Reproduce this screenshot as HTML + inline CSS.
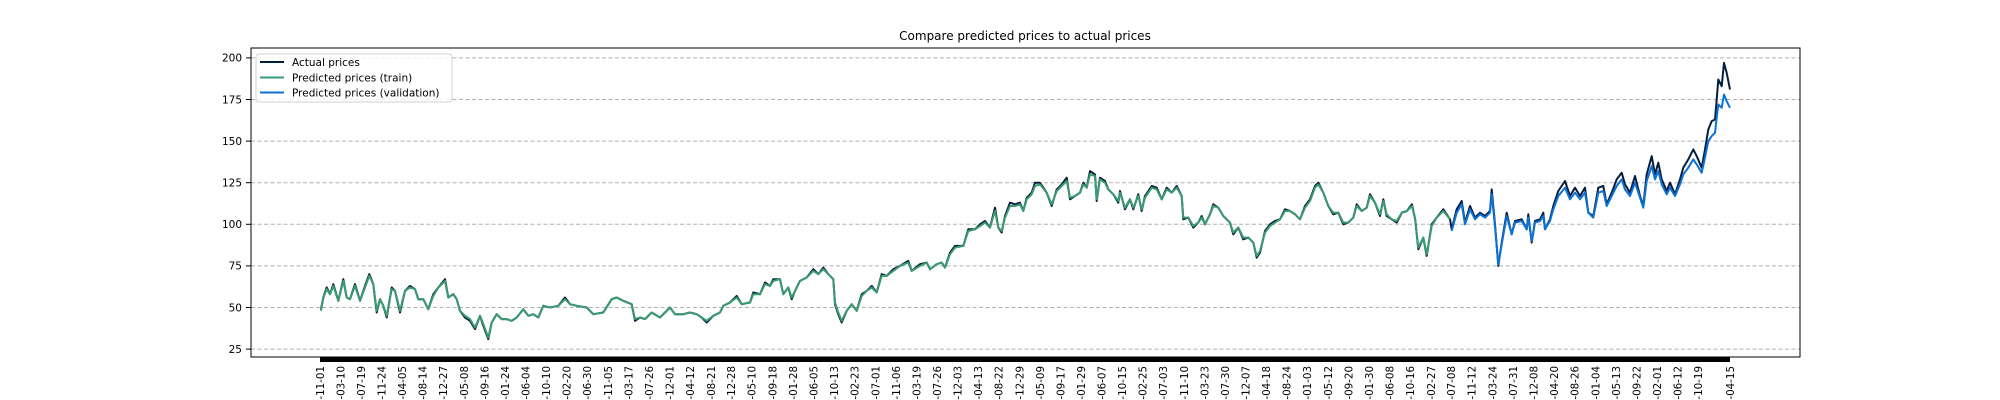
<!DOCTYPE html>
<html>
<head>
<meta charset="utf-8">
<style>
  html,body{margin:0;padding:0;background:#fff;width:2000px;height:400px;overflow:hidden;}
  svg{display:block;overflow:hidden;font-family:"DejaVu Sans","Liberation Sans",sans-serif;}
</style>
</head>
<body>
<svg id="chart" width="2000" height="400" viewBox="0 0 2000 400" xmlns="http://www.w3.org/2000/svg">
  <rect x="0" y="0" width="2000" height="400" fill="#fff"/>
  <text x="1025" y="40" font-size="12" text-anchor="middle" fill="#000">Compare predicted prices to actual prices</text>
  <g id="grid"></g>
  <g id="yaxis"></g>
  <g id="xaxis"></g>
  <g id="series"></g>
  <rect x="251" y="48" width="1549" height="309" fill="none" stroke="#000" stroke-width="1"/>
  <g>
    <rect x="256" y="54" width="196" height="48" rx="3" fill="#fff" fill-opacity="0.8" stroke="#d0d0d0" stroke-width="1"/>
    <line x1="260" y1="62" x2="284" y2="62" stroke="#061e3e" stroke-width="2"/>
    <text x="292" y="66" font-size="10.5" fill="#000">Actual prices</text>
    <line x1="260" y1="77.5" x2="284" y2="77.5" stroke="#3a9a70" stroke-width="2"/>
    <text x="292" y="81.5" font-size="10.5" fill="#000">Predicted prices (train)</text>
    <line x1="260" y1="92.5" x2="284" y2="92.5" stroke="#0a72d8" stroke-width="2"/>
    <text x="292" y="96.5" font-size="10.5" fill="#000">Predicted prices (validation)</text>
  </g>
</svg>
<script>
const yTicks = [25, 50, 75, 100, 125, 150, 175, 200];
const tickLabels = ["11-01","03-10","07-19","11-24","04-05","08-14","12-27","05-08","09-16","01-24","06-04","10-10","02-20","06-30","11-05","03-17","07-26","12-01","04-12","08-21","12-28","05-10","09-18","01-28","06-05","10-13","02-23","07-01","11-06","03-19","07-26","12-03","04-13","08-22","12-29","05-09","09-17","01-29","06-07","10-15","02-25","07-03","11-10","03-23","07-30","12-07","04-18","08-24","01-03","05-12","09-20","01-30","06-08","10-16","02-27","07-08","11-12","03-24","07-31","12-08","04-20","08-26","01-04","05-13","09-22","02-01","06-12","10-19","04-15"];
const tickDays = [0,86,173,259,346,432,518,605,691,778,864,950,1037,1123,1210,1296,1382,1469,1555,1642,1728,1814,1901,1987,2074,2160,2246,2333,2419,2506,2592,2678,2765,2851,2938,3024,3110,3197,3283,3370,3456,3542,3629,3715,3802,3888,3974,4061,4147,4234,4320,4406,4493,4579,4666,4752,4838,4925,5011,5098,5184,5270,5357,5443,5530,5616,5702,5789,5922];
const trainDays = [4,14,28,42,56,77,98,112,126,147,168,189,207,224,238,252,266,280,301,315,336,357,378,399,413,434,455,476,497,525,539,560,574,588,609,630,651,672,686,707,721,742,763,784,805,826,854,875,896,917,938,966,1001,1029,1050,1078,1120,1148,1190,1225,1246,1274,1309,1323,1344,1365,1393,1428,1449,1470,1491,1526,1554,1582,1603,
1624,1652,1680,1694,1722,1750,1771,1806,1820,1848,1869,1890,1904,1932,1946,1967,1981,1995,2016,2044,2072,2093,2114,2135,2156,2163,2177,2191,2212,2233,2254,2275,2296,2317,2338,2359,2380,2408,2436,2471,2485,2520,2548,2562,2590,2611,2625,2646,2667,2702,2723,2751,2772,2793,2814,2835,2849,2863,2877,2898,2919,2940,2954,2968,2989,3003,3024,3052,3073,3094,3115,3136,3150,3171,3192,3206,3220,3234,3255,3262,
3276,3297,3311,3332,3353,3360,3381,3402,3416,3437,3451,3465,3493,3514,3535,3556,3577,3598,3619,3626,3647,3668,3689,3703,3717,3738,3752,3773,3794,3822,3836,3857,3878,3899,3920,3934,3948,3969,3990,4011,4032,4053,4074,4095,4116,4137,4158,4179,4193,4214,4235,4256,4277,4298,4319,4340,4354,4375,4396,4410,4431,4452,4466,4480,4501,4522,4544,4565,4586,4600,4613,4634,4648,4669,4690,4718,4746];
const trainActual = [49,56,62,58,64,54,67,56,55,64,54,63,70,64,47,55,51,44,62,60,47,60,63,61,55,55,49,58,62,67,56,58,55,48,44,42,37,45,39,31,41,46,43,43,42,44,49,45,46,44,51,50,51,56,52,51,50,46,47,55,56,54,52,42,44,43,47,44,47,50,46,46,47,46,44,
41,45,47,51,53,57,52,53,59,58,65,63,67,67,58,62,55,60,66,68,73,70,74,70,67,52,46,41,48,52,48,58,60,63,59,70,69,73,75,78,72,76,77,73,76,77,74,83,87,87,97,97,100,102,98,110,98,95,105,113,112,113,108,116,119,125,125,119,111,121,124,128,115,117,119,125,122,132,130,114,
128,126,121,118,113,120,109,115,109,118,108,117,123,122,115,122,119,123,117,103,104,98,101,105,100,106,112,110,105,101,94,98,91,92,89,80,83,96,100,102,103,109,108,106,103,111,115,123,125,119,111,106,107,100,101,104,112,108,110,118,113,105,115,105,103,101,107,108,112,103,85,92,81,100,104,109,103];
const trainPred = [48,56,61,58,63,54,66,56,55,63,54,62,69,64,48,55,51,45,61,60,48,60,62,61,55,55,49,57,62,66,56,58,55,48,45,43,38,45,40,32,41,46,43,43,42,44,49,45,46,44,51,50,51,55,52,51,50,46,47,55,56,54,52,43,44,43,47,44,47,50,46,46,47,46,44,
42,45,47,51,53,56,52,53,58,58,64,63,66,67,58,62,56,60,66,68,72,70,73,70,67,53,47,42,48,52,48,57,60,62,59,69,69,72,75,77,72,75,77,73,76,77,74,82,86,87,96,97,99,101,98,108,98,96,104,111,111,112,108,115,118,123,124,119,112,120,123,126,116,117,119,124,122,130,129,115,
127,125,121,118,114,119,110,115,110,117,109,116,122,121,115,121,119,122,117,104,104,99,101,104,100,106,111,110,105,101,95,98,92,92,89,81,84,95,99,101,103,108,108,106,103,110,114,122,124,119,111,107,107,101,101,104,111,108,110,117,113,106,114,106,103,102,107,108,111,103,86,92,82,99,104,108,103];
const valDays = [4753,4774,4795,4809,4830,4851,4872,4893,4914,4921,4935,4949,4963,4984,5005,5019,5047,5068,5075,5089,5103,5124,5138,5145,5166,5180,5201,5229,5250,5271,5292,5313,5327,5348,5369,5390,5404,5425,5446,5467,5481,5502,5523,5544,5558,5572,5593,5607,5621,5635,5656,5670,5691,5712,5726,5747,5768,5782,5803,5817,5831,5845,5859,5866,5873,5887,5897,5908,5922];
const valActual = [97,109,114,101,111,104,107,105,108,121,100,75,89,107,94,102,103,97,106,89,102,103,107,97,103,111,120,126,117,122,117,122,107,105,122,123,112,119,127,131,124,119,129,117,111,130,141,130,137,127,120,125,118,127,134,139,145,141,134,145,157,162,163,175,187,183,197,191,181];
const valPred = [96,107,112,100,109,103,106,104,107,118,99,76,88,105,94,101,102,97,104,90,101,102,105,97,102,109,117,122,115,119,115,119,107,104,119,120,111,117,123,127,121,117,125,116,110,126,135,127,132,124,118,122,117,124,130,134,139,136,131,140,150,153,155,164,172,170,178,174,170];

const NS = "http://www.w3.org/2000/svg";
const X0 = 320, X1 = 1730, DMAX = 5922;
const xScale = d => X0 + d / DMAX * (X1 - X0);
const yScale = v => 224.3 - (v - 100) * 1.664;
const PL = 251, PR = 1800;

function mk(tag, attrs, parent) {
  const el = document.createElementNS(NS, tag);
  for (const k in attrs) el.setAttribute(k, attrs[k]);
  parent.appendChild(el);
  return el;
}

const grid = document.getElementById('grid');
const yaxis = document.getElementById('yaxis');
yTicks.forEach(v => {
  const y = yScale(v);
  const gl = mk('line', {x1: PL, x2: PR, y1: y, y2: y, stroke: '#b0b0b0', 'stroke-width': 1, 'stroke-dasharray': '4,2.5'}, grid);
  
  
  const tk = mk('line', {x1: PL - 5, x2: PL, y1: y, y2: y, stroke: '#000', 'stroke-width': 1}, yaxis);
  
  
  const t = mk('text', {x: PL - 9, y: y + 3.8, 'font-size': 10.5, 'text-anchor': 'end', fill: '#000'}, yaxis);
  t.textContent = String(v);
  
  
});

const xaxis = document.getElementById('xaxis');
const bar = mk('rect', {x: X0, y: 357, width: X1 - X0, height: 5, fill: '#000'}, xaxis);


tickLabels.forEach((lab, i) => {
  const x = xScale(tickDays[i]);
  const t = mk('text', {x: 0, y: 0, 'font-size': 10.3, 'text-anchor': 'end', fill: '#000',
    transform: 'translate(' + (x + 3.8) + ',366) rotate(-90)'}, xaxis);
  t.textContent = '-' + lab;
  
  
});

function pathFor(days, vals) {
  const n = Math.min(days.length, vals.length);
  let d = '';
  for (let i = 0; i < n; i++) d += (i ? 'L' : 'M') + xScale(days[i]).toFixed(1) + ',' + yScale(vals[i]).toFixed(1);
  return d;
}
const series = document.getElementById('series');
const allDays = trainDays.concat(valDays);
const allActual = trainActual.concat(valActual);
const pa = mk('path', {d: pathFor(allDays, allActual), fill: 'none', stroke: '#061e3e', 'stroke-width': 2, 'stroke-linejoin': 'round'}, series);


const pt = mk('path', {d: pathFor(trainDays, trainPred), fill: 'none', stroke: '#3a9a70', 'stroke-width': 2, 'stroke-linejoin': 'round'}, series);


const pv = mk('path', {d: pathFor(valDays, valPred), fill: 'none', stroke: '#0a72d8', 'stroke-width': 2, 'stroke-linejoin': 'round'}, series);


</script>
</body>
</html>
